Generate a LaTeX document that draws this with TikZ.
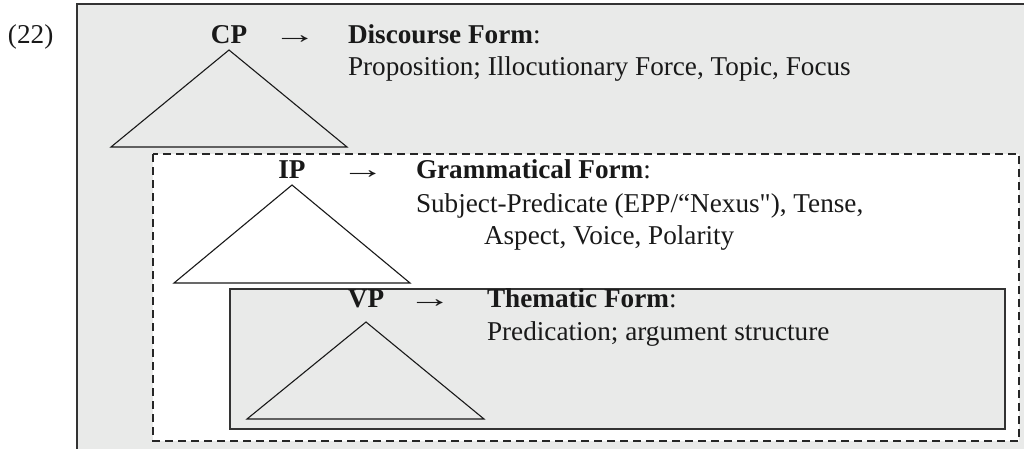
\documentclass[tikz,border=0pt]{standalone}
\usepackage{graphicx}
\usepackage{fontspec}
\setmainfont{Liberation Serif}[Ligatures=TeXOff]
\newcommand{\wideto}{\scalebox{1.6}[1]{→}}
\begin{document}
\begin{tikzpicture}[x=1pt,y=-1pt,
  txt/.style={inner sep=0pt,outer sep=0pt,text=black!90,font=\fontsize{27.2}{33}\selectfont},
  cat/.style={txt,anchor=base,font=\fontsize{27.2}{33}\selectfont\bfseries},
  arr/.style={txt,anchor=base},
  line/.style={txt,anchor=base west},
  tri/.style={line width=1.1pt,draw=black!90,line join=miter},
  boxgray/.style={fill=bg,draw=black!80},
]
\definecolor{bg}{HTML}{E9EAE9}
\useasboundingbox (0,0) rectangle (1024,448);
% outer box
\draw[boxgray,line width=2pt] (77,4) rectangle (1040,470);
% dashed box
\draw[fill=white,draw=black!85,line width=1.5pt,dash pattern=on 8pt off 5pt] (153,154) rectangle (1019,441);
% VP box
\draw[boxgray,line width=1.6pt] (230,289) rectangle (1005,429);

\node[line] (ex) at (8,43) {(22)};

% CP
\node[cat] (cp) at (229,43) {CP};
\node[arr] (cpa) at (295,43) {\wideto};
\node[line] (cpt) at (348,43) {\textbf{Discourse Form}:};
\node[line] (cpd) at (348,75) {Proposition; Illocutionary Force, Topic, Focus};
\coordinate (cpA) at (229,50);
\coordinate (cpL) at (111,147);
\coordinate (cpR) at (347,147);
\draw[tri] (cpA) -- (cpL) -- (cpR) -- cycle;

% IP
\node[cat] (ip) at (292,178) {IP};
\node[arr] (ipa) at (363,178) {\wideto};
\node[line] (ipt) at (416,178) {\textbf{Grammatical Form}:};
\node[line] (ipd) at (416,212) {Subject-Predicate (EPP/“Nexus"), Tense,};
\node[line] (ipe) at (484,244) {Aspect, Voice, Polarity};
\coordinate (ipA) at (292,185);
\coordinate (ipL) at (174,283);
\coordinate (ipR) at (410,283);
\draw[tri] (ipA) -- (ipL) -- (ipR) -- cycle;

% VP
\node[cat] (vp) at (366,307) {VP};
\node[arr] (vpa) at (430,307) {\wideto};
\node[line] (vpt) at (487,307) {\textbf{Thematic Form}:};
\node[line] (vpd) at (487,340) {Predication; argument structure};
\coordinate (vpA) at (366,322);
\coordinate (vpL) at (247,419);
\coordinate (vpR) at (484,419);
\draw[tri] (vpA) -- (vpL) -- (vpR) -- cycle;
\end{tikzpicture}
\end{document}
